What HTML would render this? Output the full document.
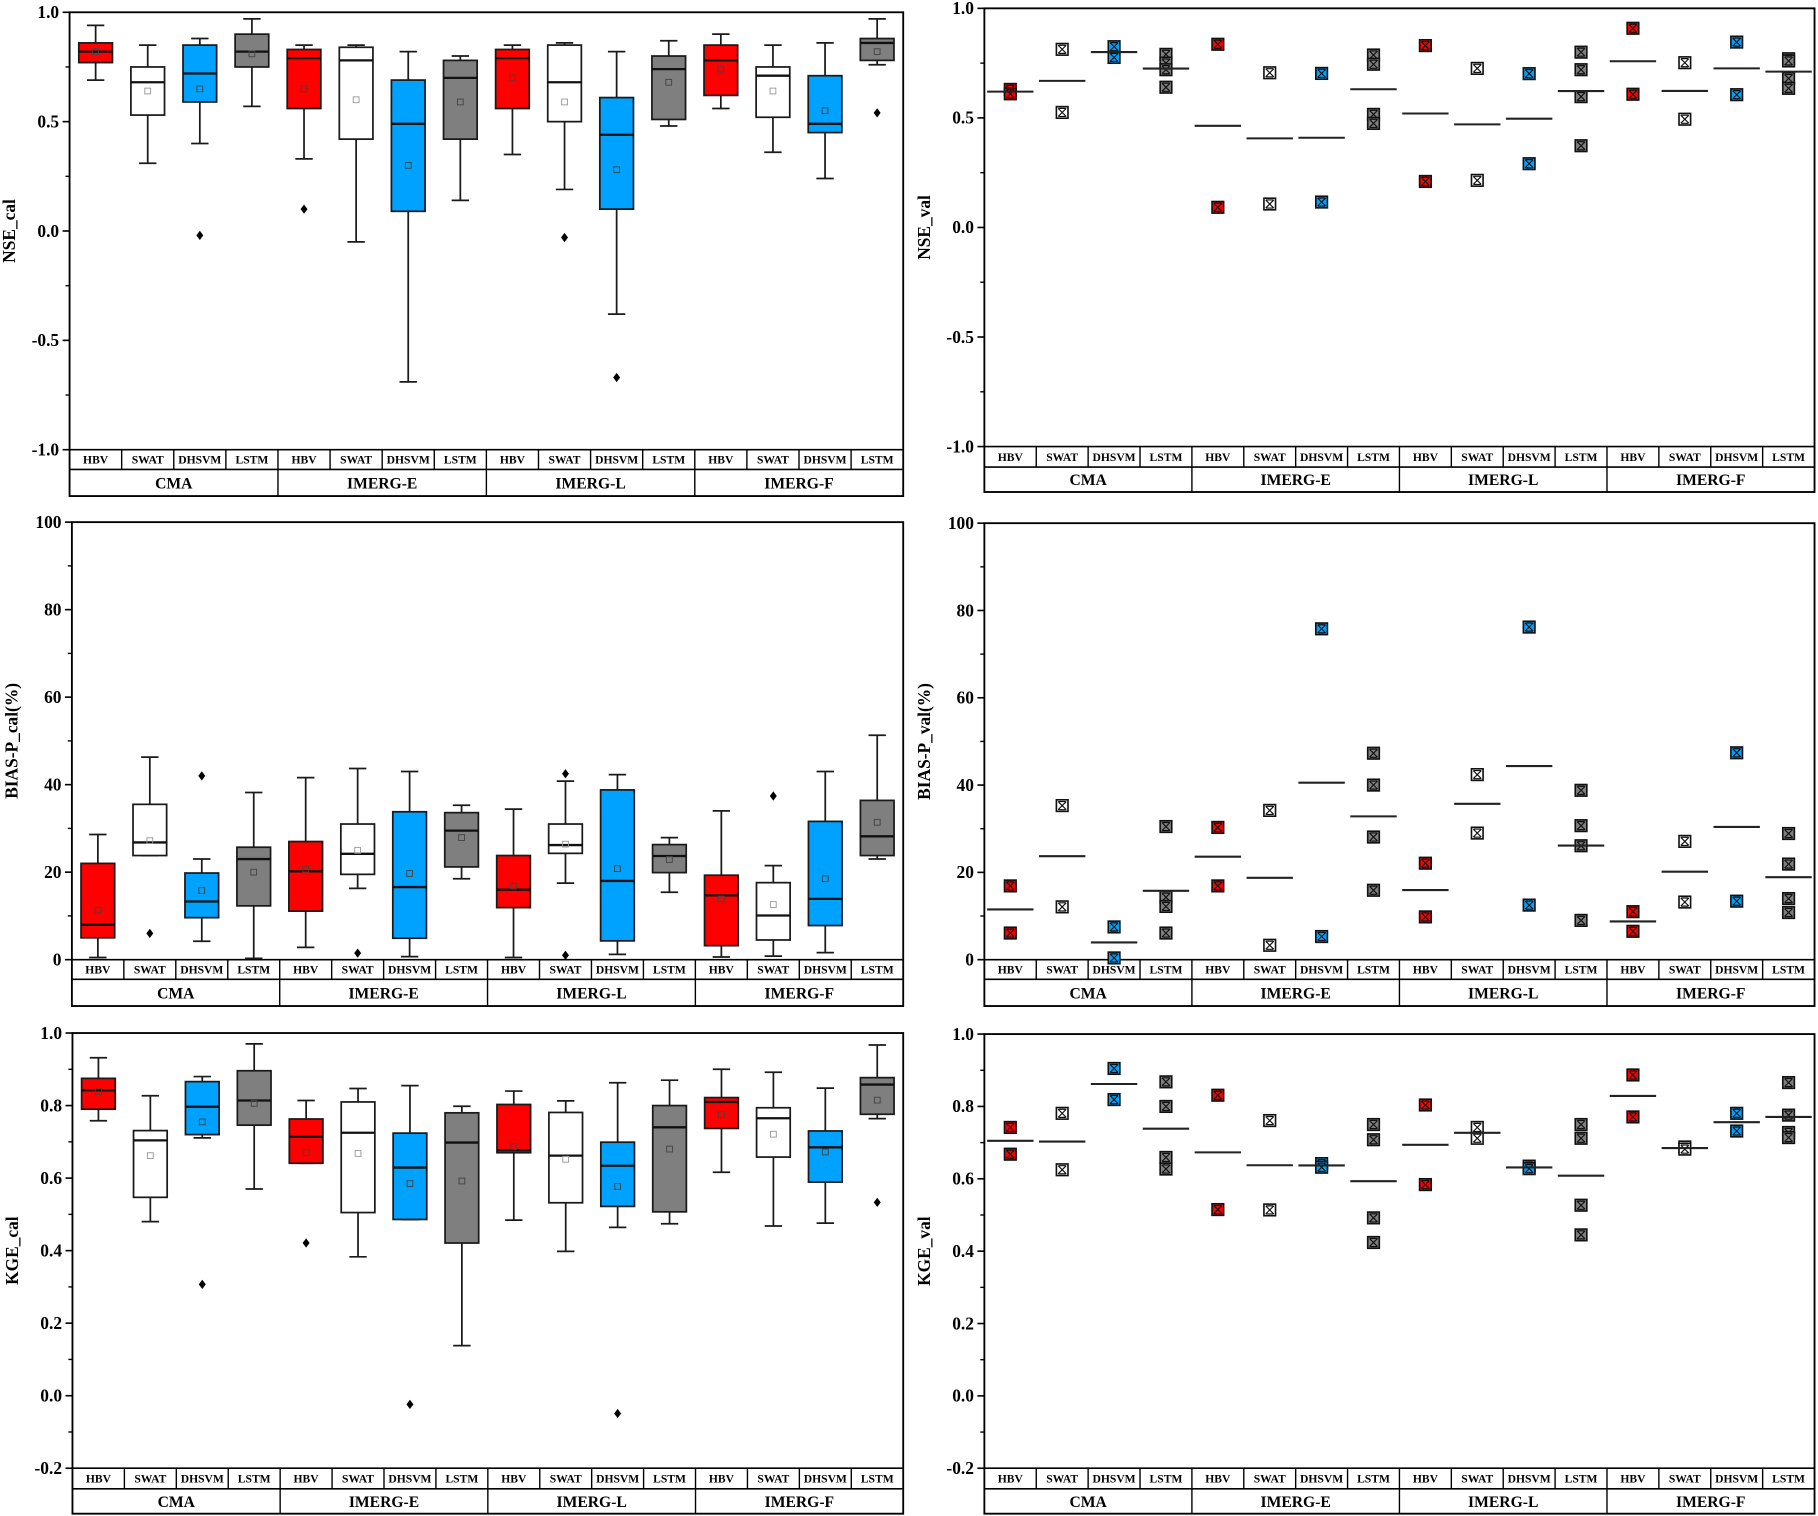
<!DOCTYPE html>
<html><head><meta charset="utf-8"><style>
html,body{margin:0;padding:0;background:#fff;}
svg{display:block;}
text{font-family:"Liberation Serif",serif;font-weight:bold;fill:#000;}
</style></head><body>
<svg id="fig" width="1818" height="1516" viewBox="0 0 1568 1308" preserveAspectRatio="none" xmlns="http://www.w3.org/2000/svg"></svg>
<script>
// ---------- data ----------
const groups = ["CMA","IMERG-E","IMERG-L","IMERG-F"];
const models = ["HBV","SWAT","DHSVM","LSTM"];
const modelColors = ["#ff0000","#ffffff","#00a2ff","#7f7f7f"];

// box stats per column: [whiskerLow, q1, median, q3, whiskerHigh]
const nseCalBox = [
 [0.69,0.77,0.82,0.86,0.94],[0.31,0.53,0.68,0.75,0.85],[0.40,0.59,0.72,0.85,0.88],[0.57,0.75,0.82,0.90,0.97],
 [0.33,0.56,0.79,0.83,0.85],[-0.05,0.42,0.78,0.84,0.85],[-0.69,0.09,0.49,0.69,0.82],[0.14,0.42,0.70,0.78,0.80],
 [0.35,0.56,0.79,0.83,0.85],[0.19,0.50,0.68,0.85,0.86],[-0.38,0.10,0.44,0.61,0.82],[0.48,0.51,0.74,0.80,0.87],
 [0.56,0.62,0.78,0.85,0.90],[0.36,0.52,0.71,0.75,0.85],[0.24,0.45,0.49,0.71,0.86],[0.76,0.78,0.86,0.88,0.97]];
const nseCalMean = [0.82,0.64,0.65,0.81,0.65,0.60,0.30,0.59,0.70,0.59,0.28,0.68,0.74,0.64,0.55,0.82];
const nseCalOut = [[],[],[-0.02],[],[0.10],[],[],[],[],[-0.03],[-0.67],[],[],[],[],[0.54]];

const biasCalBox = [
 [0.5,5,8,22,28.6],[23.8,23.8,26.8,35.5,46.3],[4.2,9.6,13.3,19.8,23],[0.3,12.3,23,25.7,38.2],
 [2.8,11.1,20.2,27,41.6],[16.3,19.5,24.2,31,43.7],[0.7,4.9,16.6,33.8,43],[18.5,21.2,29.5,33.6,35.3],
 [0.5,11.9,16,23.8,34.4],[17.5,24.3,26.2,31,40.8],[1.2,4.3,18,38.8,42.3],[15.4,19.9,23.7,26.3,27.9],
 [0.6,3.2,14.7,19.3,34],[0.8,4.5,10.1,17.6,21.5],[1.6,7.8,13.9,31.6,43],[23,23.8,28.2,36.4,51.3]];
const biasCalMean = [11.3,27.2,15.8,20,20.7,25,19.7,27.9,16.8,26.4,20.8,22.9,13.9,12.6,18.5,31.4];
const biasCalOut = [[],[6],[42],[],[],[1.5],[],[],[],[42.5,1],[],[],[],[37.4],[],[]];

const kgeCalBox = [
 [0.758,0.79,0.842,0.875,0.932],[0.48,0.547,0.704,0.731,0.827],[0.711,0.72,0.797,0.866,0.88],[0.57,0.746,0.814,0.896,0.97],
 [0.641,0.641,0.714,0.763,0.814],[0.383,0.505,0.725,0.81,0.847],[0.486,0.486,0.629,0.724,0.855],[0.138,0.421,0.698,0.78,0.798],
 [0.484,0.67,0.677,0.803,0.84],[0.398,0.532,0.662,0.781,0.813],[0.464,0.522,0.634,0.699,0.863],[0.474,0.507,0.74,0.8,0.87],
 [0.616,0.737,0.81,0.822,0.9],[0.468,0.658,0.765,0.794,0.892],[0.476,0.589,0.685,0.73,0.848],[0.764,0.776,0.858,0.877,0.967]];
const kgeCalMean = [0.838,0.662,0.755,0.806,0.67,0.668,0.585,0.592,0.687,0.652,0.577,0.68,0.775,0.721,0.672,0.815];
const kgeCalOut = [[],[],[0.307],[],[0.421],[],[-0.024],[],[],[],[-0.049],[],[],[],[],[0.533]];

// validation points per column (line = mean)
const nseValPts = [
 [0.63,0.61],[0.813,0.525],[0.825,0.776],[0.79,0.75,0.72,0.64],
 [0.836,0.092],[0.706,0.107],[0.703,0.116],[0.787,0.745,0.516,0.475],
 [0.83,0.21],[0.726,0.215],[0.702,0.291],[0.80,0.72,0.597,0.373],
 [0.909,0.608],[0.752,0.494],[0.846,0.606],[0.77,0.76,0.68,0.635]];
const biasValPts = [
 [16.9,6.1],[35.3,12.1],[7.5,0.4],[30.5,14.3,12.2,6.1],
 [30.3,16.9],[34.2,3.3],[75.8,5.3],[47.3,40,28.1,15.9],
 [22.1,9.8],[42.4,29],[76.2,12.5],[38.8,30.7,26.1,9],
 [11,6.5],[27.1,13.2],[47.4,13.4],[28.9,21.9,14,10.8]];
const kgeValPts = [
 [0.742,0.668],[0.781,0.625],[0.905,0.819],[0.868,0.80,0.659,0.627],
 [0.831,0.515],[0.761,0.514],[0.642,0.632],[0.75,0.708,0.492,0.424],
 [0.804,0.584],[0.742,0.712],[0.635,0.628],[0.75,0.712,0.527,0.445],
 [0.887,0.771],[0.688,0.682],[0.781,0.732],[0.866,0.776,0.728,0.714]];

const nseTicks = ["-1.0","-0.5","0.0","0.5","1.0"];
const biasTicks = ["0","20","40","60","80","100"];
const kgeTicks = ["-0.2","0.0","0.2","0.4","0.6","0.8","1.0"];

// ---------- drawing ----------
const NS = "http://www.w3.org/2000/svg";
const svg = document.getElementById("fig");
function el(tag, attrs, parent){
  const e = document.createElementNS(NS, tag);
  for (const k in attrs) e.setAttribute(k, attrs[k]);
  (parent||svg).appendChild(e);
  return e;
}

function panel(cfg){
  const g = el("g", {});
  
  
  const {x0,x1,top,bot,catBot,grpBot,ymin,ymax} = cfg;
  const Y = v => bot - (v - ymin) / (ymax - ymin) * (bot - top);
  const colW = (x1 - x0) / 16;
  const X = i => x0 + colW * (i + 0.5);

  // frame
  const fr = el("rect", {x:x0, y:top, width:x1-x0, height:grpBot-top, fill:"none", stroke:"#000", "stroke-width":1.6}, g);
  
  
  el("line", {x1:x0, x2:x1, y1:bot, y2:bot, stroke:"#000", "stroke-width":1.4}, g);
  el("line", {x1:x0, x2:x1, y1:catBot, y2:catBot, stroke:"#000", "stroke-width":1.4}, g);
  for (let i = 1; i < 16; i++){
    const xx = x0 + colW * i;
    const major = i % 4 === 0;
    el("line", {x1:xx, x2:xx, y1:bot, y2: major ? grpBot : catBot, stroke:"#000", "stroke-width":1.2}, g);
  }
  for (let i = 0; i < 16; i++){
    const t = el("text", {x:X(i), y:(bot+catBot)/2 + 3.6, "font-size":10, "text-anchor":"middle"}, g);
    t.textContent = models[i % 4];
    
    
  }
  for (let j = 0; j < 4; j++){
    const t = el("text", {x:x0 + colW * (4*j + 2), y:(catBot+grpBot)/2 + 4.8, "font-size":13.5, "text-anchor":"middle"}, g);
    t.textContent = groups[j];
    
    
  }
  // y ticks
  cfg.ticks.forEach((lab, k) => {
    const v = parseFloat(lab);
    const yy = Y(v);
    el("line", {x1:x0-6, x2:x0, y1:yy, y2:yy, stroke:"#000", "stroke-width":1.4}, g);
    const t = el("text", {x:x0-9, y:yy+5, "font-size":15, "text-anchor":"end"}, g);
    t.textContent = lab;
    
    
    if (k < cfg.ticks.length - 1){
      const ym = Y((v + parseFloat(cfg.ticks[k+1])) / 2);
      el("line", {x1:x0-3.5, x2:x0, y1:ym, y2:ym, stroke:"#000", "stroke-width":1.2}, g);
    }
  });
  const tt = el("text", {x:0, y:0, "font-size":15, "text-anchor":"middle", transform:`translate(${x0-47},${(top+bot)/2}) rotate(-90)`}, g);
  tt.textContent = cfg.title;
  
  

  if (cfg.box){
    const bw = 29, cw = 15;
    cfg.box.forEach((b, i) => {
      const cx = X(i);
      const bg = el("g", {}, g);
      
      
      const st = {stroke:"#1a1a1a", "stroke-width":1.5};
      el("line", Object.assign({x1:cx, x2:cx, y1:Y(b[0]), y2:Y(b[1])}, st), bg);
      el("line", Object.assign({x1:cx, x2:cx, y1:Y(b[3]), y2:Y(b[4])}, st), bg);
      el("line", Object.assign({x1:cx-cw/2, x2:cx+cw/2, y1:Y(b[0]), y2:Y(b[0])}, st), bg);
      el("line", Object.assign({x1:cx-cw/2, x2:cx+cw/2, y1:Y(b[4]), y2:Y(b[4])}, st), bg);
      el("rect", Object.assign({x:cx-bw/2, y:Y(b[3]), width:bw, height:Math.max(0.5, Y(b[1])-Y(b[3])), fill:modelColors[i%4]}, st), bg);
      el("line", {x1:cx-bw/2, x2:cx+bw/2, y1:Y(b[2]), y2:Y(b[2]), stroke:"#111", "stroke-width":2}, bg);
      const m = cfg.mean[i];
      el("rect", {x:cx-2.5, y:Y(m)-2.5, width:5, height:5, fill:"none", stroke:(i%4===1?"#999":"#444"), "stroke-width":0.8}, bg);
      cfg.out[i].forEach(o => {
        const oy = Y(o);
        el("polygon", {points:`${cx},${oy-4} ${cx+3},${oy} ${cx},${oy+4} ${cx-3},${oy}`, fill:"#000"}, bg);
      });
    });
  } else {
    cfg.pts.forEach((arr, i) => {
      const cx = X(i);
      const pg = el("g", {}, g);
      
      
      const mean = arr.reduce((a,c)=>a+c,0) / arr.length;
      arr.forEach(v => {
        const yy = Y(v), s = 10;
        el("rect", {x:cx-s/2, y:yy-s/2, width:s, height:s, fill:modelColors[i%4], stroke:"#111", "stroke-width":1.4}, pg);
        el("path", {d:`M${cx-3.5},${yy-3.5}L${cx+3.5},${yy+3.5}M${cx+3.5},${yy-3.5}L${cx-3.5},${yy+3.5}M${cx-3},${yy-3.5}H${cx+3}M${cx-3},${yy+3.5}H${cx+3}`, stroke:"#111", "stroke-width":1, fill:"none"}, pg);
      });
      el("line", {x1:cx-20, x2:cx+20, y1:Y(mean), y2:Y(mean), stroke:"#222", "stroke-width":1.8}, pg);
    });
  }
}

panel({name:"nse-cal-panel", x0:60, x1:779, top:10.6, bot:388, catBot:405, grpBot:428, ymin:-1, ymax:1, ticks:nseTicks, title:"NSE_cal", box:nseCalBox, mean:nseCalMean, out:nseCalOut});
panel({name:"nse-val-panel", x0:849, x1:1565, top:7.2, bot:385.3, catBot:403, grpBot:424.5, ymin:-1, ymax:1, ticks:nseTicks, title:"NSE_val", pts:nseValPts});
panel({name:"bias-cal-panel", x0:62, x1:779, top:450.5, bot:828, catBot:845, grpBot:868, ymin:0, ymax:100, ticks:biasTicks, title:"BIAS-P_cal(%)", box:biasCalBox, mean:biasCalMean, out:biasCalOut});
panel({name:"bias-val-panel", x0:849, x1:1565, top:451.4, bot:828, catBot:845, grpBot:868, ymin:0, ymax:100, ticks:biasTicks, title:"BIAS-P_val(%)", pts:biasValPts});
panel({name:"kge-cal-panel", x0:62.5, x1:779, top:891.3, bot:1266.8, catBot:1284.5, grpBot:1306, ymin:-0.2, ymax:1, ticks:kgeTicks, title:"KGE_cal", box:kgeCalBox, mean:kgeCalMean, out:kgeCalOut});
panel({name:"kge-val-panel", x0:849, x1:1565, top:892.2, bot:1266.8, catBot:1284.5, grpBot:1306, ymin:-0.2, ymax:1, ticks:kgeTicks, title:"KGE_val", pts:kgeValPts});
</script>
</body></html>
